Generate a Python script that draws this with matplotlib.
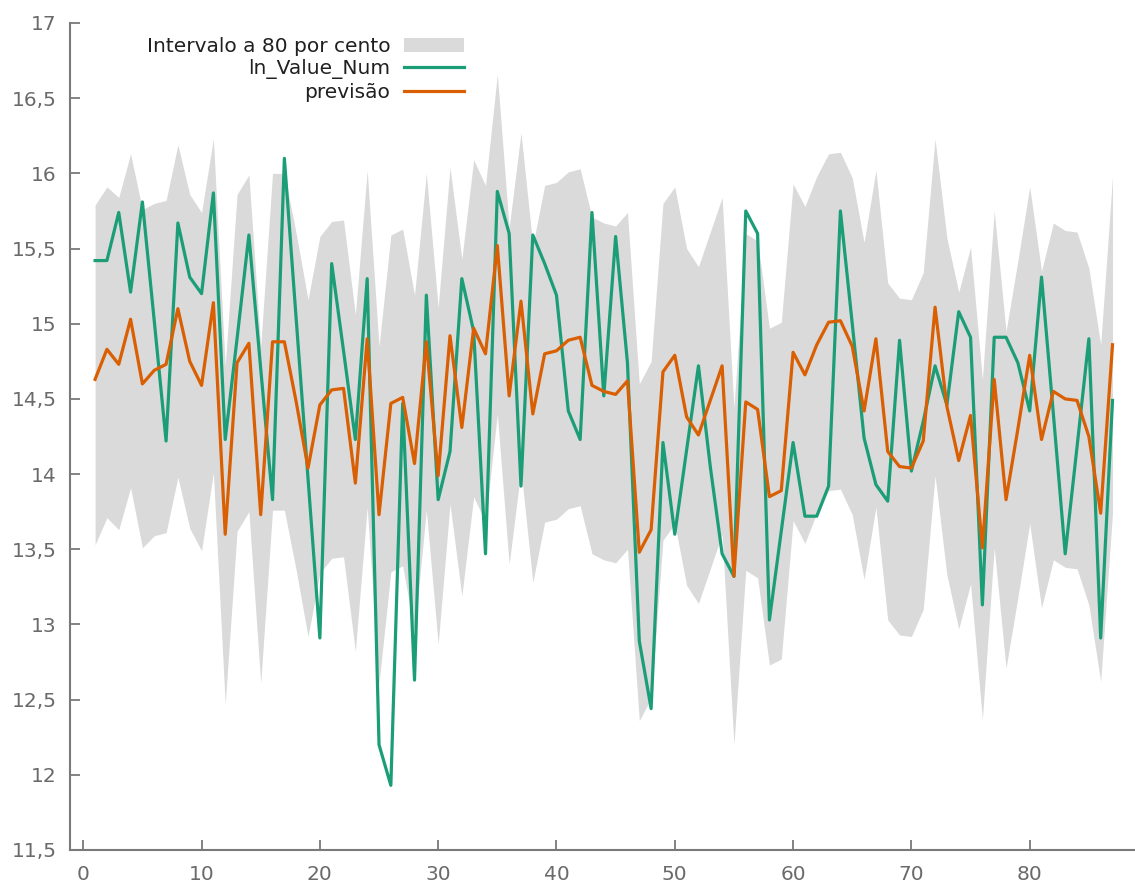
import matplotlib
matplotlib.use("Agg")
import matplotlib.pyplot as plt
import numpy as np
from matplotlib.ticker import FuncFormatter, MultipleLocator

# observation index
obs = np.arange(1, 88)

# ln of value (observed)
ln_value = [
    15.42, 15.42, 15.74, 15.21, 15.81, 15.02, 14.22, 15.67, 15.31, 15.20,
    15.87, 14.23, 14.90, 15.59, 14.70, 13.83, 16.10, 15.03, 13.97, 12.91,
    15.40, 14.82, 14.23, 15.30, 12.20, 11.93, 14.47, 12.63, 15.19, 13.83,
    14.15, 15.30, 14.95, 13.47, 15.88, 15.60, 13.92, 15.59, 15.40, 15.19,
    14.42, 14.23, 15.74, 14.52, 15.58, 14.74, 12.89, 12.44, 14.21, 13.60,
    14.16, 14.72, 14.05, 13.47, 13.32, 15.75, 15.60, 13.03, 13.62, 14.21,
    13.72, 13.72, 13.92, 15.75, 15.00, 14.24, 13.93, 13.82, 14.89, 14.02,
    14.35, 14.72, 14.46, 15.08, 14.91, 13.13, 14.91, 14.91, 14.74, 14.42,
    15.31, 14.40, 13.47, 14.18, 14.90, 12.91, 14.49,
]

# forecast
previsao = [
    14.63, 14.83, 14.73, 15.03, 14.60, 14.69, 14.73, 15.10, 14.75, 14.59,
    15.14, 13.60, 14.74, 14.87, 13.73, 14.88, 14.88, 14.48, 14.04, 14.46,
    14.56, 14.57, 13.94, 14.90, 13.73, 14.47, 14.51, 14.07, 14.88, 13.99,
    14.92, 14.31, 14.97, 14.80, 15.52, 14.52, 15.15, 14.40, 14.80, 14.82,
    14.89, 14.91, 14.59, 14.55, 14.53, 14.62, 13.48, 13.63, 14.68, 14.79,
    14.38, 14.26, 14.49, 14.72, 13.32, 14.48, 14.43, 13.85, 13.89, 14.81,
    14.66, 14.86, 15.01, 15.02, 14.85, 14.42, 14.90, 14.15, 14.05, 14.04,
    14.22, 15.11, 14.45, 14.09, 14.39, 13.51, 14.63, 13.83, 14.30, 14.79,
    14.23, 14.55, 14.50, 14.49, 14.25, 13.74, 14.86,
]

# 80% interval bounds
upper = [
    15.79, 15.91, 15.84, 16.13, 15.76, 15.80, 15.82, 16.19, 15.86, 15.74,
    16.23, 14.72, 15.86, 15.99, 14.85, 16.00, 16.00, 15.60, 15.16, 15.58,
    15.68, 15.69, 15.06, 16.02, 14.85, 15.59, 15.63, 15.19, 16.00, 15.11,
    16.04, 15.43, 16.09, 15.92, 16.66, 15.64, 16.27, 15.52, 15.92, 15.94,
    16.01, 16.03, 15.71, 15.67, 15.65, 15.74, 14.60, 14.75, 15.80, 15.91,
    15.50, 15.38, 15.61, 15.84, 14.44, 15.60, 15.55, 14.97, 15.01, 15.93,
    15.78, 15.98, 16.13, 16.14, 15.97, 15.54, 16.02, 15.27, 15.17, 15.16,
    15.34, 16.23, 15.57, 15.21, 15.51, 14.63, 15.75, 14.95, 15.42, 15.91,
    15.35, 15.67, 15.62, 15.61, 15.37, 14.86, 15.98,
]
lower = [
    13.53, 13.71, 13.63, 13.91, 13.51, 13.59, 13.61, 13.98, 13.64, 13.49,
    14.01, 12.47, 13.62, 13.75, 12.61, 13.76, 13.76, 13.36, 12.92, 13.34,
    13.44, 13.45, 12.82, 13.78, 12.61, 13.35, 13.39, 12.95, 13.76, 12.87,
    13.80, 13.19, 13.85, 13.68, 14.40, 13.40, 14.03, 13.28, 13.68, 13.70,
    13.77, 13.79, 13.47, 13.43, 13.41, 13.50, 12.36, 12.51, 13.56, 13.67,
    13.26, 13.14, 13.37, 13.60, 12.20, 13.36, 13.31, 12.73, 12.77, 13.69,
    13.54, 13.74, 13.89, 13.90, 13.73, 13.30, 13.78, 13.03, 12.93, 12.92,
    13.10, 13.99, 13.33, 12.97, 13.27, 12.37, 13.51, 12.71, 13.18, 13.67,
    13.11, 13.43, 13.38, 13.37, 13.13, 12.62, 13.74,
]

GREEN = "#1b9e77"
ORANGE = "#d95f02"
BAND = "#dadada"
AXCOL = "#7a7a7a"
TXTCOL = "#6a6a6a"

plt.rcParams["font.family"] = "DejaVu Sans"

fig = plt.figure(figsize=(11.35, 8.89), dpi=100)
ax = fig.add_axes([70 / 1135, 39 / 889, 1 - 70 / 1135, (850 - 23) / 889])

ax.fill_between(obs, lower, upper, color=BAND, lw=0, label="Intervalo a 80 por cento")
ax.plot(obs, ln_value, color=GREEN, lw=2.3, label="ln_Value_Num")
ax.plot(obs, previsao, color=ORANGE, lw=2.3, label="previsão")

ax.set_xlim(-1.12, 88.9)
ax.set_ylim(11.5, 17)
ax.xaxis.set_major_locator(MultipleLocator(10))
ax.yaxis.set_major_locator(MultipleLocator(0.5))

def comma_fmt(v, pos):
    s = ("%.1f" % v).rstrip("0").rstrip(".")
    return s.replace(".", ",")

ax.yaxis.set_major_formatter(FuncFormatter(comma_fmt))

for side in ("top", "right"):
    ax.spines[side].set_visible(False)
for side in ("left", "bottom"):
    ax.spines[side].set_color(AXCOL)
    ax.spines[side].set_linewidth(1.5)

ax.tick_params(direction="in", length=7, width=1.3, color=AXCOL,
               labelcolor=TXTCOL, labelsize=14.5)
ax.tick_params(axis="y", pad=9.5)
ax.tick_params(axis="x", pad=11)

leg = ax.legend(loc="upper right", bbox_to_anchor=(464 / 1135, 1 - 37 / 889),
                bbox_transform=fig.transFigure, frameon=False, markerfirst=False,
                fontsize=14.5, handlelength=3.0, handletextpad=0.65,
                labelspacing=0.17, borderpad=0, borderaxespad=0)
for t in leg.get_texts():
    t.set_color("#202020")

fig.savefig("out.png", dpi=100)
